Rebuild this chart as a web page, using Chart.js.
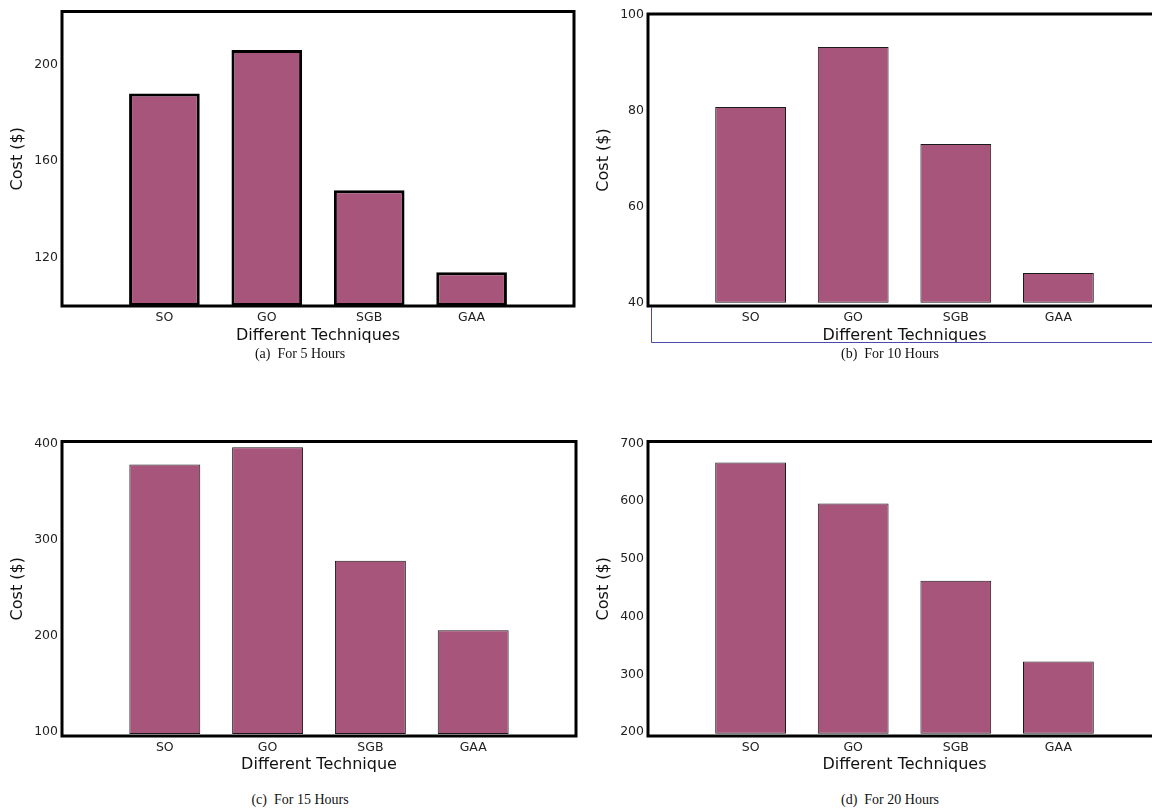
<!DOCTYPE html>
<html>
<head>
<meta charset="utf-8">
<script src="https://cdn.jsdelivr.net/npm/chart.js@4.4.0/dist/chart.umd.min.js"></script>
<style>
  html, body { margin: 0; padding: 0; background: #fff; overflow: hidden; }
  body { width: 1152px; height: 811px; position: relative; }
  .panel { position: absolute; }
  .caption {
    position: absolute; width: 400px; text-align: center;
    font-family: "Liberation Serif", "Times New Roman", serif; font-size: 14px; color: #111;
  }
</style>
</head>
<body>
<div class="panel" style="left:0; top:0; width:580px; height:348px;"><canvas id="chartA"></canvas></div>
<div class="panel" style="left:586px; top:0; width:580px; height:348px;"><canvas id="chartB"></canvas></div>
<div class="panel" style="left:0; top:430px; width:580px; height:347px;"><canvas id="chartC"></canvas></div>
<div class="panel" style="left:586px; top:430px; width:580px; height:347px;"><canvas id="chartD"></canvas></div>

<div class="caption" style="left:100px; top:346px;">(a)&nbsp; For 5 Hours</div>
<div class="caption" style="left:690px; top:346px;">(b)&nbsp; For 10 Hours</div>
<div class="caption" style="left:100px; top:792px;">(c)&nbsp; For 15 Hours</div>
<div class="caption" style="left:690px; top:792px;">(d)&nbsp; For 20 Hours</div>

<script>
// categories and values
const techniques = ["SO", "GO", "SGB", "GAA"];

const cost5h = [188, 206, 148, 114];
const cost10h = [80.8, 93.3, 73.1, 46.2];
const cost15h = [378, 396, 278, 206];
const cost20h = [667, 596, 462, 322];

const ticks5h = [120, 160, 200];
const ticks10h = [40, 60, 80, 100];
const ticks15h = [100, 200, 300, 400];
const ticks20h = [200, 300, 400, 500, 600, 700];

const barColor = "#a8557c";

// thick black frame around the plot area
const framePlugin = {
  id: "frame",
  afterDatasetsDraw(chart) {
    const { ctx, chartArea: a } = chart;
    ctx.save();
    ctx.strokeStyle = "#000";
    ctx.lineWidth = 3;
    ctx.strokeRect(a.left, a.top, a.right - a.left, a.bottom - a.top);
    ctx.restore();
  }
};

// thin blue box under panel (b), as in the scanned figure
const blueBoxPlugin = {
  id: "blueBox",
  afterDraw(chart) {
    const { ctx, chartArea: a } = chart;
    ctx.save();
    ctx.strokeStyle = "#4a4aa8";
    ctx.lineWidth = 1;
    ctx.beginPath();
    ctx.moveTo(a.left + 3.5, a.bottom + 1);
    ctx.lineTo(a.left + 3.5, a.bottom + 36.5);
    ctx.lineTo(a.right + 20, a.bottom + 36.5);
    ctx.stroke();
    ctx.restore();
  }
};

function makeChart(id, values, tickValues, opts) {
  const labels = ["", ...techniques, ""];
  const data = [null, ...values, null];

  return new Chart(document.getElementById(id), {
    type: "bar",
    data: {
      labels: labels,
      datasets: [{
        data: data,
        backgroundColor: barColor,
        borderColor: opts.thick ? "#000" : "#1a1a1a",
        borderWidth: opts.thick ? 3 : 1,
        borderSkipped: false,
        base: opts.base,
        barPercentage: 0.69,
        categoryPercentage: 1
      }]
    },
    options: {
      responsive: true,
      maintainAspectRatio: false,
      animation: false,
      events: [],
      layout: { padding: { top: opts.top, right: opts.right, left: 0, bottom: 0 } },
      plugins: { legend: { display: false }, tooltip: { enabled: false } },
      scales: {
        x: {
          offset: false,
          grid: { display: false, drawTicks: false },
          border: { display: false },
          ticks: {
            padding: 4,
            color: "#222",
            font: { family: "DejaVu Sans", size: 12.5 },
            maxRotation: 0,
            autoSkip: false
          },
          title: {
            display: true,
            text: opts.xTitle,
            color: "#111",
            font: { family: "DejaVu Sans", size: 16 },
            padding: { top: 0, bottom: 3 }
          },
          afterFit: s => { s.height = opts.xHeight; }
        },
        y: {
          min: opts.min,
          max: opts.max,
          grid: { display: false, drawTicks: false },
          border: { display: false },
          afterBuildTicks: s => { s.ticks = tickValues.map(v => ({ value: v })); },
          ticks: {
            padding: 4,
            color: "#222",
            font: { family: "DejaVu Sans", size: 12.5 }
          },
          title: {
            display: true,
            text: "Cost ($)",
            color: "#111",
            font: { family: "DejaVu Sans", size: 16 },
            padding: { top: 8, bottom: 0 }
          },
          afterFit: s => { s.width = 62; }
        }
      }
    },
    plugins: opts.blueBox ? [framePlugin, blueBoxPlugin] : [framePlugin]
  });
}

makeChart("chartA", cost5h, ticks5h, {
  min: 100, max: 222, base: 100, thick: true,
  top: 8, right: 6, xHeight: 42, xTitle: "Different Techniques"
});
makeChart("chartB", cost10h, ticks10h, {
  min: 39.3, max: 100.2, base: 40, thick: false, blueBox: true,
  top: 14, right: 5, xHeight: 42, xTitle: "Different Techniques"
});
makeChart("chartC", cost15h, ticks15h, {
  min: 96, max: 402, base: 98, thick: false,
  top: 4, right: 4, xHeight: 41, xTitle: "Different Technique"
});
makeChart("chartD", cost20h, ticks20h, {
  min: 193, max: 703.5, base: 197, thick: false,
  top: 4, right: 5, xHeight: 41, xTitle: "Different Techniques"
});
</script>
</body>
</html>
